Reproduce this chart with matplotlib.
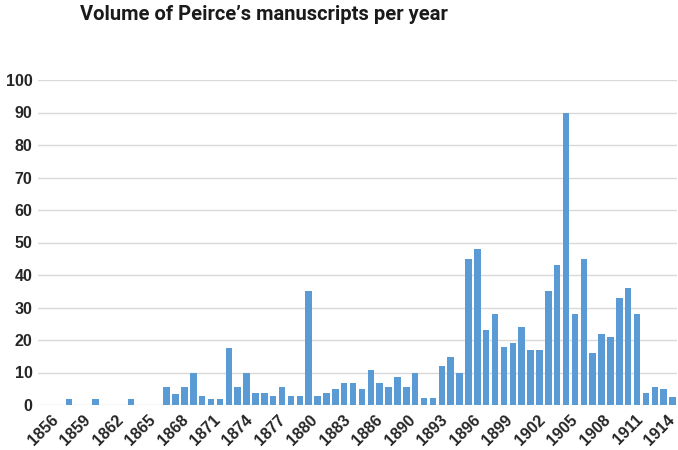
import numpy as np
import matplotlib
matplotlib.use("Agg")
import matplotlib.pyplot as plt

plt.rcParams["font.family"] = ["Liberation Sans", "DejaVu Sans"]

# manuscript volume per slot (72 slots, 1856-1914)
volume = [
    0, 0, 0, 2, 0, 0, 2, 0, 0, 0,
    2, 0, 0, 0, 5.6, 3.5, 5.6, 10, 2.8, 2,
    2, 17.6, 5.6, 10, 3.6, 3.6, 2.8, 5.6, 2.8, 2.8,
    35, 2.8, 3.6, 4.8, 6.9, 6.9, 4.8, 10.7, 6.9, 5.6,
    8.6, 5.6, 9.8, 2.2, 2.2, 11.9, 14.9, 9.9, 45, 48,
    23, 28, 18, 19, 24, 17, 17, 35, 43, 90,
    28, 45, 16, 22, 21, 33, 36, 28, 3.6, 5.6,
    4.8, 2.5,
]
year_labels = ["1856", "1859", "1862", "1865", "1868", "1871", "1874", "1877",
               "1880", "1883", "1886", "1890", "1893", "1896", "1899", "1902",
               "1905", "1908", "1911", "1914"]
y_ticks = list(range(0, 101, 10))

BAR_BLUE = "#5b9bd5"
GRID_GREY = "#d9d9d9"
TEXT_DARK = "#262626"

fig = plt.figure(figsize=(6.78, 4.5), dpi=100)
ax = fig.add_axes([38 / 678, 45 / 450, 639 / 678, 325 / 450])

x = np.arange(len(volume))
ax.bar(x, volume, width=0.72, color=BAR_BLUE, zorder=3)

ax.set_xlim(-0.5, len(volume) - 0.5)
ax.set_ylim(0, 100)
ax.set_yticks(y_ticks)
ax.set_yticklabels([str(v) for v in y_ticks], fontweight="bold", fontsize=11.5)
ax.yaxis.grid(True, color=GRID_GREY, lw=1.0, zorder=0)
ax.set_axisbelow(True)

tick_pos = np.linspace(1.5, len(volume) - 1, len(year_labels))
ax.set_xticks(tick_pos)
ax.set_xticklabels(year_labels, rotation=45, ha="right", va="center",
                   rotation_mode="anchor", fontweight="bold", fontsize=11.5)

for s in ax.spines.values():
    s.set_visible(False)
ax.tick_params(axis="both", length=0, colors=TEXT_DARK)
ax.tick_params(axis="x", pad=9)
ax.tick_params(axis="y", pad=4)

# title sits left of the figure middle, as in the source
fig.text(264 / 678, 1 - 14 / 450, "Volume of Peirce\u2019s manuscripts per year",
         ha="center", va="center", fontsize=14.5, fontweight="bold",
         color="#1a1a1a", family=["Roboto", "DejaVu Sans"])

fig.savefig("out.png", dpi=100)
